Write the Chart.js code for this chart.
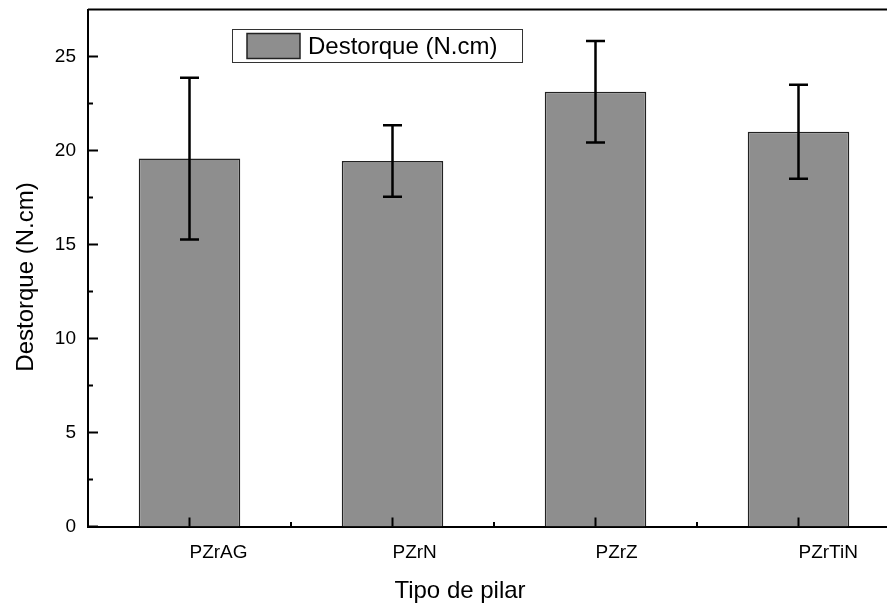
<!DOCTYPE html>
<html>
<head>
<meta charset="utf-8">
<script src="https://cdn.jsdelivr.net/npm/chart.js@4"></script>
<style>
  html, body { margin: 0; padding: 0; overflow: hidden; background: #fff; }
  #wrap { width: 902px; height: 608px; }
</style>
</head>
<body>
<div id="wrap"><canvas id="torque_chart" width="902" height="608"></canvas></div>
<script>
const categories = ['PZrAG', 'PZrN', 'PZrZ', 'PZrTiN'];
const torque = [19.57, 19.44, 23.12, 21.0];
const torqueSd = [4.3, 1.9, 2.7, 2.5];
const yTicks = [0, 5, 10, 15, 20, 25];
const yMinorTicks = [2.5, 7.5, 12.5, 17.5, 22.5];

const FONT = '"Liberation Sans", Arial, sans-serif';

// ticks pointing inward, frame on top/right, error bars, legend box, axis titles
const decorations = {
  id: 'decorations',
  afterDatasetsDraw(chart) {
    const ctx = chart.ctx;
    const area = chart.chartArea;
    const xs = chart.scales.x, ys = chart.scales.y;
    const meta = chart.getDatasetMeta(0);
    ctx.save();
    ctx.strokeStyle = '#000';
    ctx.lineWidth = 2.5;
    meta.data.forEach((bar, i) => {
      const top = ys.getPixelForValue(torque[i] + torqueSd[i]);
      const bot = ys.getPixelForValue(torque[i] - torqueSd[i]);
      ctx.beginPath();
      ctx.moveTo(bar.x, top); ctx.lineTo(bar.x, bot);
      ctx.moveTo(bar.x - 9.5, top); ctx.lineTo(bar.x + 9.5, top);
      ctx.moveTo(bar.x - 9.5, bot); ctx.lineTo(bar.x + 9.5, bot);
      ctx.stroke();
    });

    ctx.lineWidth = 2;
    ctx.beginPath();
    // frame
    ctx.moveTo(area.left, area.top); ctx.lineTo(area.right, area.top);
    ctx.lineTo(area.right, area.bottom);
    // y ticks
    yTicks.forEach(v => {
      const y = ys.getPixelForValue(v);
      ctx.moveTo(area.left, y); ctx.lineTo(area.left + 10, y);
    });
    yMinorTicks.forEach(v => {
      const y = ys.getPixelForValue(v);
      ctx.moveTo(area.left, y); ctx.lineTo(area.left + 5, y);
    });
    // x ticks
    categories.forEach((c, i) => {
      const x = xs.getPixelForValue(i);
      ctx.moveTo(x, area.bottom); ctx.lineTo(x, area.bottom - 9);
      if (i < categories.length - 1) {
        const xm = (x + xs.getPixelForValue(i + 1)) / 2;
        ctx.moveTo(xm, area.bottom); ctx.lineTo(xm, area.bottom - 4.5);
      }
    });
    ctx.stroke();

    // legend
    const lx = area.left + 144, ly = area.top + 19.5;
    ctx.lineWidth = 1;
    ctx.strokeStyle = '#333';
    ctx.fillStyle = '#fff';
    ctx.fillRect(lx, ly, 291, 34);
    ctx.strokeRect(lx + 0.5, ly + 0.5, 290, 33);
    ctx.fillStyle = chart.data.datasets[0].backgroundColor;
    ctx.fillRect(lx + 15, ly + 4.5, 53, 25);
    ctx.lineWidth = 1.5;
    ctx.strokeStyle = '#222';
    ctx.strokeRect(lx + 15, ly + 4.5, 53, 25);
    ctx.fillStyle = '#000';
    ctx.font = '24px ' + FONT;
    ctx.textBaseline = 'middle';
    ctx.fillText(chart.data.datasets[0].label, lx + 76, ly + 18);

    // axis titles
    ctx.textAlign = 'center';
    ctx.textBaseline = 'alphabetic';
    ctx.fillText('Tipo de pilar', 460, 598);
    ctx.translate(26, 277);
    ctx.rotate(-Math.PI / 2);
    ctx.textBaseline = 'middle';
    ctx.fillText('Destorque (N.cm)', 0, 0);
    ctx.restore();
  }
};

const torque_ctx = document.getElementById('torque_chart').getContext('2d');

new Chart(torque_ctx, {
  type: 'bar',
  data: {
    labels: categories,
    datasets: [{
      label: 'Destorque (N.cm)',
      data: torque,
      backgroundColor: '#8e8e8e',
      borderColor: '#222222',
      borderWidth: 1.5,
      categoryPercentage: 1,
      barPercentage: 0.5
    }]
  },
  options: {
    responsive: false,
    animation: false,
    layout: { padding: { top: 9.5, right: 2, left: 0, bottom: 0 } },
    plugins: {
      legend: { display: false },
      tooltip: { enabled: false }
    },
    scales: {
      x: {
        grid: { display: false, drawTicks: false },
        border: { display: true, color: '#000', width: 2 },
        ticks: {
          color: '#000',
          align: 'start',
          padding: 15,
          font: { family: FONT, size: 19 }
        },
        afterFit(scale) {
          scale.height = 81.5;
          scale.paddingLeft = 0;
          scale.paddingRight = 0;
        }
      },
      y: {
        min: 0,
        max: 27.5,
        grid: { display: false, drawTicks: false },
        border: { display: true, color: '#000', width: 2 },
        ticks: {
          stepSize: 5,
          includeBounds: false,
          color: '#000',
          padding: 12,
          font: { family: FONT, size: 19 }
        },
        afterFit(scale) {
          scale.width = 88;
          scale.paddingTop = 0;
          scale.paddingBottom = 0;
        }
      }
    }
  },
  plugins: [decorations]
});
</script>
</body>
</html>
